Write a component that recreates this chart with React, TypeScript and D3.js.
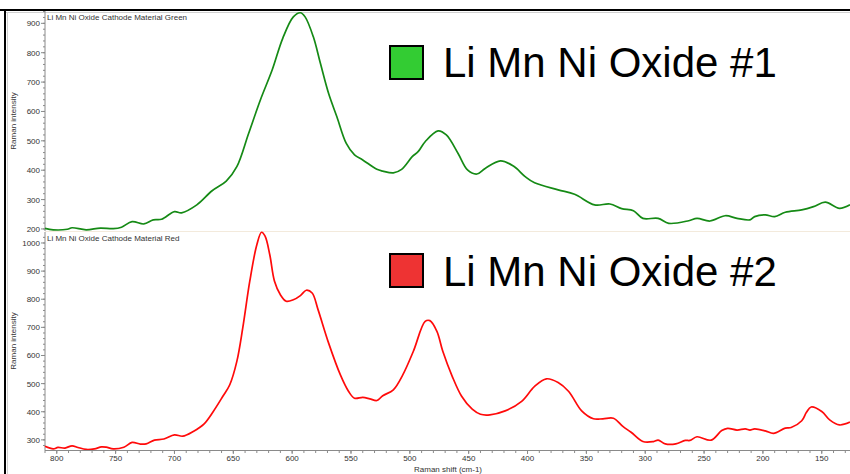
import * as d3 from 'd3';

const W = 850;
const H = 474;

// Raman shift (cm-1) / intensity
const greenShift = [810, 803, 791, 787, 775, 763, 752, 745, 736, 726, 718, 711, 700, 694, 681, 668, 656, 647, 637, 627, 617, 608, 599, 593, 589, 582, 576, 569, 562, 554, 547, 540, 528, 523, 514, 507, 498, 493, 487, 476, 469, 459, 451, 443, 436, 423, 412, 402, 394, 374, 360, 343, 330, 320, 310, 302, 289, 280, 263, 256, 245, 232, 222, 211, 207, 198, 190, 181, 167, 157, 147, 135, 126];
const greenValue = [202, 197, 199, 204, 197, 203, 201, 206, 225, 217, 231, 233, 259, 255, 282, 330, 363, 412, 525, 639, 741, 849, 922, 936, 922, 854, 764, 661, 582, 491, 452, 435, 403, 397, 391, 403, 446, 463, 497, 534, 520, 457, 401, 387, 406, 432, 414, 378, 357, 333, 318, 282, 285, 269, 262, 236, 236, 219, 228, 236, 227, 245, 236, 231, 242, 248, 242, 257, 265, 276, 291, 270, 282];

// red spectrum
const redShift = [810, 803, 799, 793, 787, 782, 775, 768, 762, 758, 752, 743, 736, 729, 724, 717, 709, 700, 693, 684, 675, 667, 659, 653, 647, 642, 636, 630, 626, 623, 619, 615, 610, 605, 599, 593, 588, 583, 578, 569, 559, 552, 547, 540, 534, 528, 523, 514, 506, 497, 487, 483, 477, 472, 464, 456, 447, 440, 432, 419, 405, 394, 384, 374, 365, 354, 344, 336, 327, 319, 312, 302, 293, 289, 283, 274, 266, 262, 256, 244, 235, 230, 222, 215, 211, 207, 198, 191, 181, 176, 167, 163, 159, 150, 143, 135, 126];
const redValue = [277, 268, 273, 271, 279, 273, 266, 268, 275, 274, 268, 274, 291, 285, 286, 299, 303, 318, 313, 330, 356, 401, 454, 496, 579, 697, 864, 994, 1038, 1024, 958, 864, 816, 793, 798, 813, 832, 822, 763, 644, 531, 472, 448, 451, 446, 440, 457, 478, 531, 615, 721, 724, 686, 615, 526, 455, 409, 391, 389, 403, 437, 490, 517, 504, 472, 403, 375, 375, 377, 348, 327, 294, 294, 299, 286, 286, 298, 298, 311, 299, 333, 341, 335, 339, 335, 339, 332, 323, 342, 344, 368, 398, 417, 401, 370, 353, 363];

const xTicks = [800, 750, 700, 650, 600, 550, 500, 450, 400, 350, 300, 250, 200, 150];
const topTicks = [200, 300, 400, 500, 600, 700, 800, 900];
const bottomTicks = [300, 400, 500, 600, 700, 800, 900, 1000];

const titles = ['Li Mn Ni Oxide Cathode Material Green', 'Li Mn Ni Oxide Cathode Material Red'];
const legendNames = ['Li Mn Ni Oxide #1', 'Li Mn Ni Oxide #2'];

const smallFont = '"Liberation Sans Narrow", "Arial Narrow", "Liberation Sans", Arial, sans-serif';
const axisColor = '#8a8a8a';
const textColor = '#333';

const left = 45;
const right = 850;

const x = d3.scaleLinear().domain([810, 126]).range([left, right]);
const yTop = d3.scaleLinear().domain([193, 942]).range([231, 11]);
const yBottom = d3.scaleLinear().domain([264, 1039]).range([450, 232]);

type Panel = {
  y: d3.ScaleLinear<number, number>;
  ticks: number[];
  shift: number[];
  value: number[];
  color: string;
  fill: string;
  title: string;
  legend: string;
};

const panels: Panel[] = [
  { y: yTop, ticks: topTicks, shift: greenShift, value: greenValue, color: '#158a15', fill: '#33cc33', title: titles[0], legend: legendNames[0] },
  { y: yBottom, ticks: bottomTicks, shift: redShift, value: redValue, color: '#ff0a0a', fill: '#ee3333', title: titles[1], legend: legendNames[1] },
];

const PanelView = ({ p }: { p: Panel }) => {
  const [y0, y1] = p.y.range();
  const [d0, d1] = p.y.domain();
  const minor = d3.range(Math.ceil(d0 / 20) * 20, d1, 20);
  const line = d3
    .line<number>()
    .x(i => x(p.shift[i]))
    .y(i => p.y(p.value[i]))
    .curve(d3.curveCatmullRom.alpha(0.5));
  const yMid = (y0 + y1) / 2;
  const box = 33;

  return (
    <g>
      <line x1={left} x2={left} y1={y1} y2={y0} stroke={axisColor} />
      {minor.map(v => (
        <line key={'m' + v} x1={left - 2} x2={left} y1={p.y(v)} y2={p.y(v)} stroke={axisColor} />
      ))}
      {p.ticks.map(v => (
        <g key={v}>
          <line x1={left - 4} x2={left} y1={p.y(v)} y2={p.y(v)} stroke={axisColor} />
          <text x={40} y={p.y(v) + 3} textAnchor="end" fontSize={8} fill={textColor} fontFamily={smallFont}>
            {v}
          </text>
        </g>
      ))}
      <text
        transform={`translate(16, ${yMid}) rotate(-90)`}
        textAnchor="middle"
        fontSize={8}
        fill={textColor}
        fontFamily={smallFont}
      >
        Raman intensity
      </text>
      <text x={47} y={y1 + 9} fontSize={8} fill={textColor} fontFamily={smallFont}>
        {p.title}
      </text>
      <path d={line(d3.range(p.shift.length)) ?? ''} fill="none" stroke={p.color} strokeWidth={1.7} />
      <rect x={390} y={y1 + (p === panels[0] ? 35 : 22)} width={box} height={box} fill={p.fill} stroke="#000" strokeWidth={2} />
      <text
        x={443}
        y={y1 + (p === panels[0] ? 66 : 54)}
        fontSize={42}
        fill="#000"
        fontFamily='"Liberation Sans", Arial, sans-serif'
      >
        {p.legend}
      </text>
    </g>
  );
};

const App = () => {
  const minorX = d3.range(130, 811, 10);
  return (
    <svg width={W} height={H} style={{ position: 'absolute', left: 0, top: 0, background: '#fff' }}>
      <rect width={W} height={H} fill="#fff" />
      {/* window frame */}
      <line x1={0} x2={W} y1={10} y2={10} stroke="#000" strokeWidth={2} />
      <line x1={5} x2={5} y1={9} y2={H} stroke="#000" strokeWidth={2} />
      <line x1={6} x2={W} y1={12.5} y2={12.5} stroke="#d0d0d0" />
      <line x1={7.5} x2={7.5} y1={12} y2={H} stroke="#d0d0d0" />
      {/* separator between panels */}
      <line x1={left} x2={right} y1={231.5} y2={231.5} stroke="#f3eadc" />
      {panels.map((p, i) => (
        <PanelView key={i} p={p} />
      ))}
      {/* x axis */}
      <line x1={left} x2={right} y1={450.5} y2={450.5} stroke={axisColor} />
      {minorX.map(v => (
        <line key={'mx' + v} x1={x(v)} x2={x(v)} y1={450} y2={453} stroke={axisColor} />
      ))}
      {xTicks.map(v => (
        <g key={v}>
          <line x1={x(v)} x2={x(v)} y1={450} y2={454} stroke={axisColor} />
          <text x={x(v)} y={461} textAnchor="middle" fontSize={8} fill={textColor} fontFamily={smallFont}>
            {v}
          </text>
        </g>
      ))}
      <text x={448} y={472} textAnchor="middle" fontSize={8} fill={textColor} fontFamily={smallFont}>
        Raman shift (cm-1)
      </text>
    </svg>
  );
};

export default App;
